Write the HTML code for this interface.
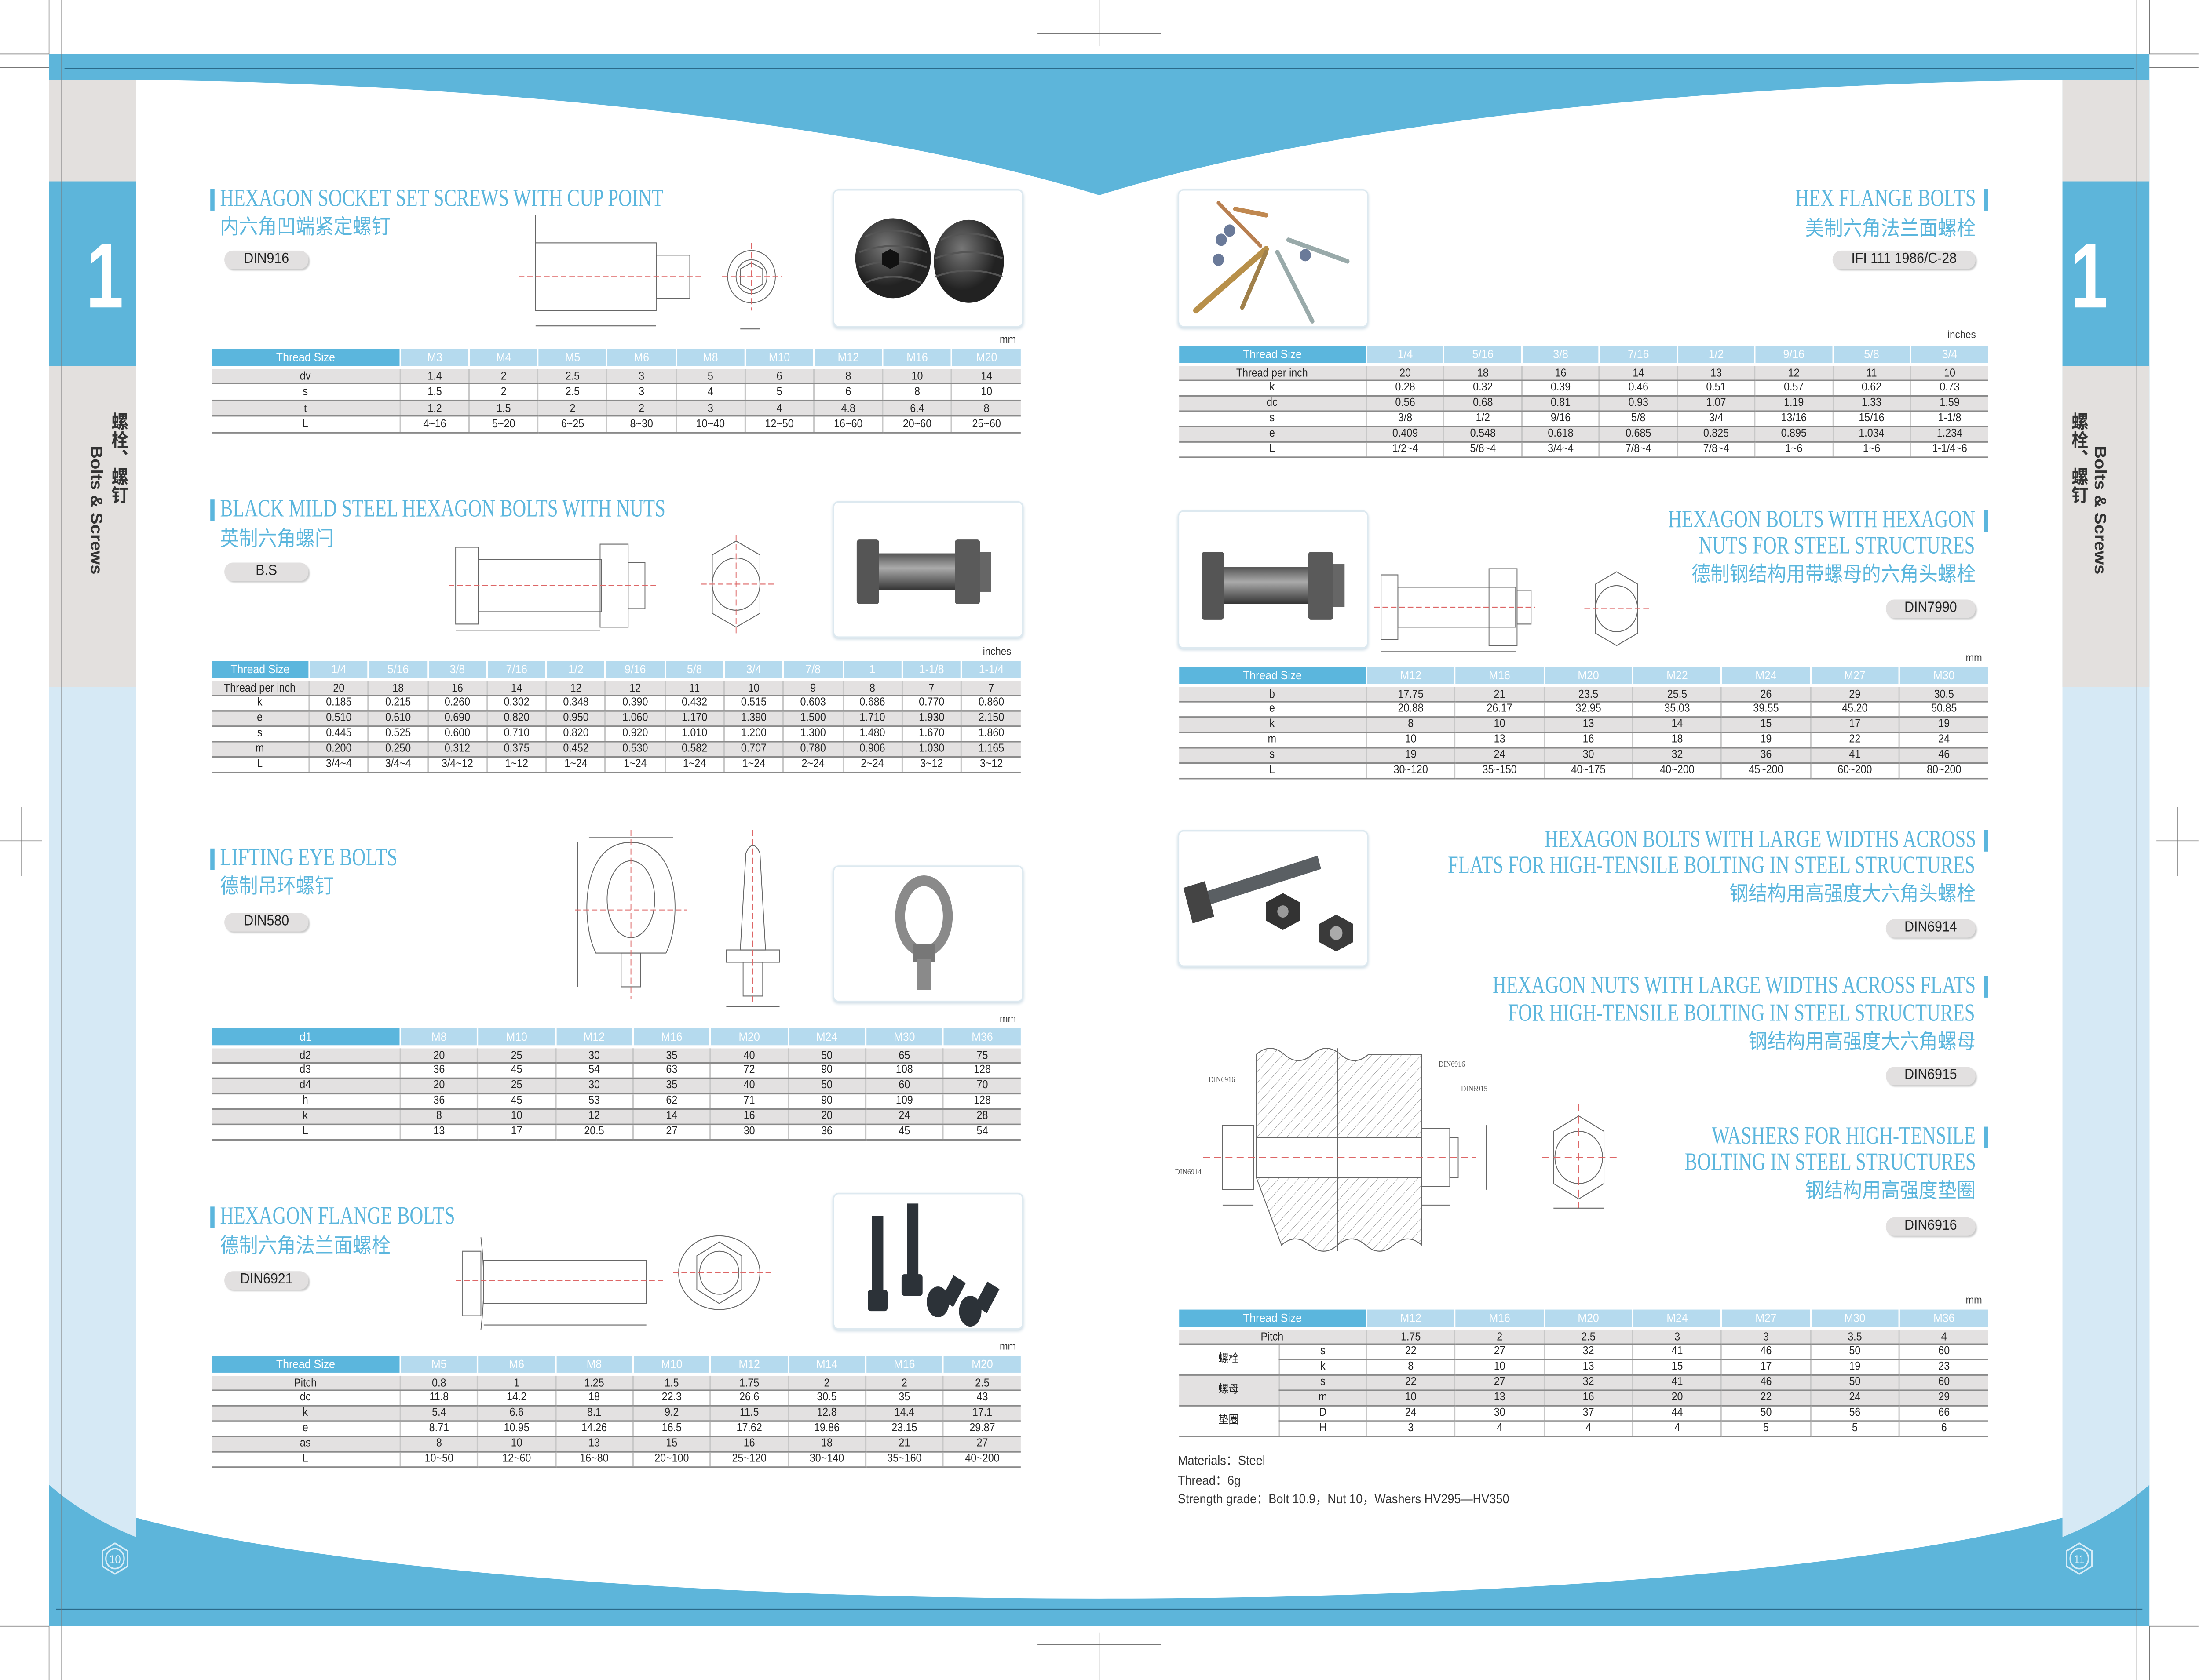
<!DOCTYPE html>
<html><head><meta charset="utf-8">
<style>
html,body{margin:0;padding:0;width:100%;height:100%;overflow:hidden;background:#fff}
#p{position:absolute;left:0;top:0;width:1568px;height:1093px;transform:scale(3.188,3.496);transform-origin:0 0;font-family:"Liberation Sans","Noto Sans CJK SC",sans-serif}
.a{position:absolute}
.tt{position:absolute;font-family:"Liberation Serif","Noto Serif CJK SC",serif;font-size:16px;color:#5bb6dd;white-space:nowrap;line-height:17px;transform:scaleX(.84)}
.tl{transform-origin:0 0}
.tr{transform-origin:100% 0;text-align:right}
.cn{position:absolute;font-family:"Noto Sans CJK SC",sans-serif;font-size:13.5px;color:#5bb6dd;white-space:nowrap;line-height:16px}
.bar{position:absolute;width:3px;height:14px;background:#5bb6dd}
.bd{position:absolute;height:12px;background:#e2e0e0;border-radius:6px;font-size:9.5px;color:#222;text-align:center;line-height:12px;box-shadow:1px 1px 1px #ccc}
.ph{position:absolute;border:1.5px solid #dde9f0;border-radius:4px;background:#fff;box-shadow:0 1px 2px #cfdde6;overflow:hidden}
.u{position:absolute;font-size:7px;color:#333}
table{position:absolute;border-collapse:collapse;table-layout:fixed;font-size:7.3px;color:#222}
td{text-align:center;padding:0;border-left:1px solid #c8c8c8;border-bottom:1px solid #8a8a8a;line-height:1;overflow:hidden;white-space:nowrap}
td:first-child{border-left:none}
tr:nth-child(even) td{background:#e3e1e1}
tr.h td{background:#b5daee;color:#fff;border-bottom:2px solid #fff;border-left:1px solid #fff;font-size:7.8px}
tr.h td:first-child{background:#5bb6dd}
.w td{background:#fff!important}
.g td{background:#e3e1e1!important}
svg{position:absolute;overflow:visible}
</style></head><body><div id="p">

<svg class="a" style="left:0;top:0" width="1568" height="1093" viewBox="0 0 1568 1093">
<rect x="35" y="35" width="1498" height="1023" fill="#5db5da"/>
<path d="M97,52 C350,54 620,80 784,127 C948,80 1218,54 1471,52 L1471,447 L97,447 Z" fill="#fff"/>
<rect x="97" y="300" width="1374" height="670" fill="#fff"/>
<path d="M35,447 L35,966 C120,1010 420,1040 784,1040 C1148,1040 1448,1010 1533,966 L1533,447 Z" fill="#fff"/>
<rect x="35" y="52" width="62" height="66" fill="#e3e0de"/>
<rect x="35" y="238" width="62" height="209" fill="#e3e0de"/>
<path d="M35,447 L97,447 L97,1000 C70,990 50,978 35,966 Z" fill="#d6e9f5"/>
<rect x="1471" y="52" width="62" height="66" fill="#e3e0de"/>
<rect x="1471" y="238" width="62" height="209" fill="#e3e0de"/>
<path d="M1533,447 L1471,447 L1471,1000 C1498,990 1518,978 1533,966 Z" fill="#d6e9f5"/>
<line x1="46" y1="44.5" x2="1522" y2="44.5" stroke="#2a6a8a" stroke-width=".8"/>
<line x1="40" y1="1047" x2="1528" y2="1047" stroke="#2a6a8a" stroke-width=".8"/>
<g stroke="#777" stroke-width=".5" fill="none">
<line x1="35" y1="0" x2="35" y2="35"/><line x1="44" y1="0" x2="44" y2="1093"/>
<line x1="0" y1="35" x2="35" y2="35"/><line x1="0" y1="44" x2="35" y2="44"/>
<line x1="1533" y1="0" x2="1533" y2="35"/><line x1="1524" y1="0" x2="1524" y2="1093"/>
<line x1="1533" y1="35" x2="1568" y2="35"/><line x1="1533" y1="44" x2="1568" y2="44"/>
<line x1="0" y1="1058" x2="35" y2="1058"/><line x1="1533" y1="1058" x2="1568" y2="1058"/>
<line x1="35" y1="1058" x2="35" y2="1093"/><line x1="1533" y1="1058" x2="1533" y2="1093"/>
<line x1="740" y1="22" x2="828" y2="22"/><line x1="784" y1="0" x2="784" y2="30"/>
<line x1="740" y1="1070" x2="828" y2="1070"/><line x1="784" y1="1062" x2="784" y2="1093"/>
<line x1="0" y1="547" x2="30" y2="547"/><line x1="15" y1="525" x2="15" y2="570"/>
<line x1="1538" y1="547" x2="1568" y2="547"/><line x1="1553" y1="525" x2="1553" y2="570"/>
</g>
<g fill="none" stroke="#d6ecf7" stroke-width="1">
<polygon points="82,1004 91,1009 91,1019 82,1024 73,1019 73,1009"/>
<circle cx="82" cy="1014" r="6.5"/>
<polygon points="1483,1004 1492,1009 1492,1019 1483,1024 1474,1019 1474,1009"/>
<circle cx="1483" cy="1014" r="6.5"/>
</g>
<text x="82" y="1017" font-size="7.5" fill="#e8f5fb" text-anchor="middle" font-family="Liberation Sans">10</text>
<text x="1483" y="1017" font-size="7.5" fill="#e8f5fb" text-anchor="middle" font-family="Liberation Sans">11</text>
</svg>

<div class="a" style="left:58px;top:150px;font:bold 60px 'Liberation Sans';color:#fff;line-height:60px;transform:scaleX(.8)">1</div>
<div class="a" style="left:1471px;top:150px;width:36px;font:bold 60px 'Liberation Sans';color:#fff;line-height:60px;transform:scaleX(.8);text-align:right">1</div>
<div class="a" style="left:79px;top:268px;writing-mode:vertical-rl;font:bold 12px 'Noto Sans CJK SC';color:#333;line-height:12px;height:70px">螺栓、螺钉</div>
<div class="a" style="left:62px;top:290px;writing-mode:vertical-rl;font:bold 11.5px 'Liberation Sans';color:#333;line-height:12px">Bolts &amp; Screws</div>
<div class="a" style="left:1477px;top:268px;writing-mode:vertical-rl;font:bold 12px 'Noto Sans CJK SC';color:#333;line-height:12px;height:70px">螺栓、螺钉</div>
<div class="a" style="left:1491px;top:290px;writing-mode:vertical-rl;font:bold 11.5px 'Liberation Sans';color:#333;line-height:12px">Bolts &amp; Screws</div>

<div class="bar" style="left:150px;top:123px"></div>
<div class="tt tl" style="left:157px;top:121px">HEXAGON SOCKET SET SCREWS WITH CUP POINT</div>
<div class="cn" style="left:157px;top:138px">内六角凹端紧定螺钉</div>
<div class="bd" style="left:160px;top:163px;width:60px">DIN916</div>
<svg style="left:370px;top:140px" width="200" height="80" viewBox="0 0 200 80" fill="none" stroke="#666" stroke-width=".6">
<rect x="12" y="18" width="86" height="44"/><rect x="98" y="26" width="24" height="28"/>
<line x1="0" y1="40" x2="130" y2="40" stroke="#d66" stroke-dasharray="4 2"/>
<line x1="12" y1="72" x2="98" y2="72"/><line x1="12" y1="0" x2="12" y2="18"/>
<circle cx="166" cy="40" r="17"/><circle cx="166" cy="40" r="11"/><polygon points="166,31 174,35 174,45 166,49 158,45 158,35"/>
<line x1="145" y1="40" x2="188" y2="40" stroke="#d66" stroke-dasharray="4 2"/><line x1="166" y1="18" x2="166" y2="62" stroke="#d66" stroke-dasharray="4 2"/>
<line x1="158" y1="74" x2="172" y2="74"/>
</svg>
<div class="ph" style="left:594px;top:123px;width:134px;height:88px">
<svg style="left:0;top:0" width="134" height="88"><defs><radialGradient id="g1" cx=".4" cy=".35"><stop offset="0" stop-color="#777"/><stop offset="1" stop-color="#222"/></radialGradient></defs>
<ellipse cx="42" cy="44" rx="27" ry="26" fill="url(#g1)"/><ellipse cx="96" cy="46" rx="25" ry="27" fill="url(#g1)"/>
<g stroke="#555" stroke-width="1.2" fill="none"><path d="M22,30 q20,-8 40,0 M18,40 q24,-8 48,0 M18,50 q24,-8 48,0 M22,60 q20,-8 40,0 M76,32 q20,-8 40,0 M72,44 q24,-8 48,0 M72,56 q24,-8 48,0"/></g>
<polygon points="40,38 46,41 46,48 40,51 34,48 34,41" fill="#111"/></svg></div>
<div class="u" style="left:713px;top:218px">mm</div>
<table style="left:150px;top:227px;width:578px">
<colgroup><col style="width:135px"><col span="9"></colgroup>
<tr class="h" style="height:12px"><td>Thread Size</td><td>M3</td><td>M4</td><td>M5</td><td>M6</td><td>M8</td><td>M10</td><td>M12</td><td>M16</td><td>M20</td></tr>
<tr style="height:10.5px"><td>dv</td><td>1.4</td><td>2</td><td>2.5</td><td>3</td><td>5</td><td>6</td><td>8</td><td>10</td><td>14</td></tr>
<tr style="height:10.5px"><td>s</td><td>1.5</td><td>2</td><td>2.5</td><td>3</td><td>4</td><td>5</td><td>6</td><td>8</td><td>10</td></tr>
<tr style="height:10.5px"><td>t</td><td>1.2</td><td>1.5</td><td>2</td><td>2</td><td>3</td><td>4</td><td>4.8</td><td>6.4</td><td>8</td></tr>
<tr style="height:10.5px"><td>L</td><td>4~16</td><td>5~20</td><td>6~25</td><td>8~30</td><td>10~40</td><td>12~50</td><td>16~60</td><td>20~60</td><td>25~60</td></tr>
</table>

<div class="bar" style="left:150px;top:325px"></div>
<div class="tt tl" style="left:157px;top:323px">BLACK MILD STEEL HEXAGON BOLTS WITH NUTS</div>
<div class="cn" style="left:157px;top:341px">英制六角螺闩</div>
<div class="bd" style="left:160px;top:366px;width:60px">B.S</div>
<svg style="left:320px;top:340px" width="250" height="75" viewBox="0 0 250 75" fill="none" stroke="#666" stroke-width=".6">
<rect x="5" y="16" width="16" height="50"/><rect x="21" y="24" width="88" height="34"/><rect x="108" y="14" width="20" height="54"/><rect x="128" y="26" width="12" height="30"/>
<line x1="0" y1="41" x2="150" y2="41" stroke="#d66" stroke-dasharray="4 2"/>
<line x1="5" y1="70" x2="108" y2="70"/>
<polygon points="205,12 222,21 222,59 205,68 188,59 188,21"/><circle cx="205" cy="40" r="17"/>
<line x1="180" y1="40" x2="232" y2="40" stroke="#d66" stroke-dasharray="4 2"/><line x1="205" y1="8" x2="205" y2="72" stroke="#d66" stroke-dasharray="4 2"/>
</svg>
<div class="ph" style="left:594px;top:326px;width:134px;height:87px">
<svg style="left:0;top:0" width="134" height="87"><defs><linearGradient id="g2" x1="0" y1="0" x2="0" y2="1"><stop offset="0" stop-color="#555"/><stop offset=".4" stop-color="#aaa"/><stop offset="1" stop-color="#333"/></linearGradient></defs>
<rect x="30" y="33" width="66" height="24" fill="url(#g2)"/><rect x="16" y="24" width="16" height="42" rx="2" fill="#555"/><rect x="86" y="24" width="18" height="42" rx="2" fill="#5a5a5a"/><rect x="104" y="32" width="8" height="26" fill="#666"/></svg></div>
<div class="u" style="left:701px;top:421px">inches</div>
<table style="left:150px;top:430px;width:578px">
<colgroup><col style="width:70px"><col span="12"></colgroup>
<tr class="h" style="height:12px"><td>Thread Size</td><td>1/4</td><td>5/16</td><td>3/8</td><td>7/16</td><td>1/2</td><td>9/16</td><td>5/8</td><td>3/4</td><td>7/8</td><td>1</td><td>1-1/8</td><td>1-1/4</td></tr>
<tr style="height:10px"><td>Thread per inch</td><td>20</td><td>18</td><td>16</td><td>14</td><td>12</td><td>12</td><td>11</td><td>10</td><td>9</td><td>8</td><td>7</td><td>7</td></tr>
<tr style="height:10px"><td>k</td><td>0.185</td><td>0.215</td><td>0.260</td><td>0.302</td><td>0.348</td><td>0.390</td><td>0.432</td><td>0.515</td><td>0.603</td><td>0.686</td><td>0.770</td><td>0.860</td></tr>
<tr style="height:10px"><td>e</td><td>0.510</td><td>0.610</td><td>0.690</td><td>0.820</td><td>0.950</td><td>1.060</td><td>1.170</td><td>1.390</td><td>1.500</td><td>1.710</td><td>1.930</td><td>2.150</td></tr>
<tr style="height:10px"><td>s</td><td>0.445</td><td>0.525</td><td>0.600</td><td>0.710</td><td>0.820</td><td>0.920</td><td>1.010</td><td>1.200</td><td>1.300</td><td>1.480</td><td>1.670</td><td>1.860</td></tr>
<tr style="height:10px"><td>m</td><td>0.200</td><td>0.250</td><td>0.312</td><td>0.375</td><td>0.452</td><td>0.530</td><td>0.582</td><td>0.707</td><td>0.780</td><td>0.906</td><td>1.030</td><td>1.165</td></tr>
<tr style="height:10px"><td>L</td><td>3/4~4</td><td>3/4~4</td><td>3/4~12</td><td>1~12</td><td>1~24</td><td>1~24</td><td>1~24</td><td>1~24</td><td>2~24</td><td>2~24</td><td>3~12</td><td>3~12</td></tr>
</table>

<div class="bar" style="left:150px;top:552px"></div>
<div class="tt tl" style="left:157px;top:550px">LIFTING EYE BOLTS</div>
<div class="cn" style="left:157px;top:567px">德制吊环螺钉</div>
<div class="bd" style="left:160px;top:594px;width:60px">DIN580</div>
<svg style="left:400px;top:540px" width="170" height="120" viewBox="0 0 170 120" fill="none" stroke="#666" stroke-width=".6">
<path d="M25,80 C14,60 14,8 50,8 C86,8 86,60 75,80 Z"/><ellipse cx="50" cy="45" rx="17" ry="25"/>
<rect x="43" y="80" width="14" height="22"/><line x1="12" y1="8" x2="12" y2="102"/><line x1="20" y1="5" x2="80" y2="5"/>
<line x1="10" y1="52" x2="90" y2="52" stroke="#d66" stroke-dasharray="4 2"/><line x1="50" y1="0" x2="50" y2="110" stroke="#d66" stroke-dasharray="4 2"/>
<path d="M128,78 L132,15 Q137,5 142,15 L146,78 Z"/><rect x="118" y="78" width="38" height="8"/><rect x="130" y="86" width="14" height="22"/>
<line x1="137" y1="0" x2="137" y2="112" stroke="#d66" stroke-dasharray="4 2"/><line x1="118" y1="115" x2="156" y2="115"/>
</svg>
<div class="ph" style="left:594px;top:563px;width:134px;height:87px">
<svg style="left:0;top:0" width="134" height="87"><ellipse cx="64" cy="32" rx="17" ry="23" fill="none" stroke="#8a8a8a" stroke-width="7"/><rect x="56" y="50" width="16" height="12" fill="#777"/><rect x="59" y="60" width="10" height="20" fill="#8a8a8a"/></svg></div>
<div class="u" style="left:713px;top:660px">mm</div>
<table style="left:150px;top:669px;width:578px">
<colgroup><col style="width:135px"><col span="8"></colgroup>
<tr class="h" style="height:12px"><td>d1</td><td>M8</td><td>M10</td><td>M12</td><td>M16</td><td>M20</td><td>M24</td><td>M30</td><td>M36</td></tr>
<tr style="height:10px"><td>d2</td><td>20</td><td>25</td><td>30</td><td>35</td><td>40</td><td>50</td><td>65</td><td>75</td></tr>
<tr style="height:10px"><td>d3</td><td>36</td><td>45</td><td>54</td><td>63</td><td>72</td><td>90</td><td>108</td><td>128</td></tr>
<tr style="height:10px"><td>d4</td><td>20</td><td>25</td><td>30</td><td>35</td><td>40</td><td>50</td><td>60</td><td>70</td></tr>
<tr style="height:10px"><td>h</td><td>36</td><td>45</td><td>53</td><td>62</td><td>71</td><td>90</td><td>109</td><td>128</td></tr>
<tr style="height:10px"><td>k</td><td>8</td><td>10</td><td>12</td><td>14</td><td>16</td><td>20</td><td>24</td><td>28</td></tr>
<tr style="height:10px"><td>L</td><td>13</td><td>17</td><td>20.5</td><td>27</td><td>30</td><td>36</td><td>45</td><td>54</td></tr>
</table>

<div class="bar" style="left:150px;top:785px"></div>
<div class="tt tl" style="left:157px;top:783px">HEXAGON FLANGE BOLTS</div>
<div class="cn" style="left:157px;top:801px">德制六角法兰面螺栓</div>
<div class="bd" style="left:160px;top:827px;width:60px">DIN6921</div>
<svg style="left:325px;top:800px" width="240" height="70" viewBox="0 0 240 70" fill="none" stroke="#666" stroke-width=".6">
<rect x="5" y="14" width="13" height="42"/><path d="M18,5 Q22,35 18,65"/><rect x="20" y="20" width="116" height="28"/>
<line x1="0" y1="33" x2="150" y2="33" stroke="#d66" stroke-dasharray="4 2"/><line x1="20" y1="62" x2="136" y2="62"/>
<ellipse cx="188" cy="28" rx="29" ry="24"/><polygon points="188,8 204,17 204,39 188,48 172,39 172,17"/><circle cx="188" cy="28" r="14"/>
<line x1="155" y1="28" x2="225" y2="28" stroke="#d66" stroke-dasharray="4 2"/>
</svg>
<div class="ph" style="left:594px;top:776px;width:134px;height:87px">
<svg style="left:0;top:0" width="134" height="87" fill="#2c3238"><rect x="27" y="14" width="8" height="58"/><rect x="52" y="6" width="8" height="50"/><rect x="24" y="62" width="14" height="14" rx="2"/><rect x="48" y="52" width="15" height="14" rx="2"/><ellipse cx="74" cy="70" rx="8" ry="10"/><ellipse cx="97" cy="76" rx="8" ry="10"/><rect x="80" y="54" width="10" height="18" transform="rotate(30 85 63)"/><rect x="104" y="58" width="10" height="18" transform="rotate(30 109 67)"/></svg></div>
<div class="u" style="left:713px;top:873px">mm</div>
<table style="left:150px;top:882px;width:578px">
<colgroup><col style="width:135px"><col span="8"></colgroup>
<tr class="h" style="height:12px"><td>Thread Size</td><td>M5</td><td>M6</td><td>M8</td><td>M10</td><td>M12</td><td>M14</td><td>M16</td><td>M20</td></tr>
<tr style="height:10px"><td>Pitch</td><td>0.8</td><td>1</td><td>1.25</td><td>1.5</td><td>1.75</td><td>2</td><td>2</td><td>2.5</td></tr>
<tr style="height:10px"><td>dc</td><td>11.8</td><td>14.2</td><td>18</td><td>22.3</td><td>26.6</td><td>30.5</td><td>35</td><td>43</td></tr>
<tr style="height:10px"><td>k</td><td>5.4</td><td>6.6</td><td>8.1</td><td>9.2</td><td>11.5</td><td>12.8</td><td>14.4</td><td>17.1</td></tr>
<tr style="height:10px"><td>e</td><td>8.71</td><td>10.95</td><td>14.26</td><td>16.5</td><td>17.62</td><td>19.86</td><td>23.15</td><td>29.87</td></tr>
<tr style="height:10px"><td>as</td><td>8</td><td>10</td><td>13</td><td>15</td><td>16</td><td>18</td><td>21</td><td>27</td></tr>
<tr style="height:10px"><td>L</td><td>10~50</td><td>12~60</td><td>16~80</td><td>20~100</td><td>25~120</td><td>30~140</td><td>35~160</td><td>40~200</td></tr>
</table>

<div class="ph" style="left:840px;top:123px;width:134px;height:88px">
<svg style="left:0;top:0" width="134" height="88" stroke-linecap="round">
<line x1="12" y1="78" x2="62" y2="38" stroke="#b8904a" stroke-width="4"/><line x1="45" y1="76" x2="62" y2="40" stroke="#a0804a" stroke-width="3"/>
<line x1="70" y1="40" x2="95" y2="85" stroke="#9aa" stroke-width="3"/><line x1="78" y1="32" x2="120" y2="46" stroke="#9aa" stroke-width="3"/>
<line x1="28" y1="8" x2="58" y2="36" stroke="#b87f50" stroke-width="2.5"/><line x1="40" y1="12" x2="62" y2="16" stroke="#c08850" stroke-width="3"/>
<circle cx="30" cy="32" r="4" fill="#6a7a99"/><circle cx="28" cy="45" r="4" fill="#6a7a99"/><circle cx="36" cy="26" r="4" fill="#6a7a99"/><circle cx="90" cy="42" r="4" fill="#6a7a99"/></svg></div>
<div class="tt tr" style="right:159px;top:121px">HEX FLANGE BOLTS</div>
<div class="bar" style="left:1415px;top:123px"></div>
<div class="cn" style="right:159px;top:139px;text-align:right">美制六角法兰面螺栓</div>
<div class="bd" style="left:1307px;top:163px;width:102px">IFI 111 1986/C-28</div>
<div class="u" style="left:1389px;top:215px">inches</div>
<table style="left:840px;top:225px;width:578px">
<colgroup><col style="width:134px"><col span="8"></colgroup>
<tr class="h" style="height:12px"><td>Thread Size</td><td>1/4</td><td>5/16</td><td>3/8</td><td>7/16</td><td>1/2</td><td>9/16</td><td>5/8</td><td>3/4</td></tr>
<tr style="height:10px"><td>Thread per inch</td><td>20</td><td>18</td><td>16</td><td>14</td><td>13</td><td>12</td><td>11</td><td>10</td></tr>
<tr style="height:10px"><td>k</td><td>0.28</td><td>0.32</td><td>0.39</td><td>0.46</td><td>0.51</td><td>0.57</td><td>0.62</td><td>0.73</td></tr>
<tr style="height:10px"><td>dc</td><td>0.56</td><td>0.68</td><td>0.81</td><td>0.93</td><td>1.07</td><td>1.19</td><td>1.33</td><td>1.59</td></tr>
<tr style="height:10px"><td>s</td><td>3/8</td><td>1/2</td><td>9/16</td><td>5/8</td><td>3/4</td><td>13/16</td><td>15/16</td><td>1-1/8</td></tr>
<tr style="height:10px"><td>e</td><td>0.409</td><td>0.548</td><td>0.618</td><td>0.685</td><td>0.825</td><td>0.895</td><td>1.034</td><td>1.234</td></tr>
<tr style="height:10px"><td>L</td><td>1/2~4</td><td>5/8~4</td><td>3/4~4</td><td>7/8~4</td><td>7/8~4</td><td>1~6</td><td>1~6</td><td>1-1/4~6</td></tr>
</table>

<div class="ph" style="left:840px;top:332px;width:134px;height:88px">
<svg style="left:0;top:0" width="134" height="88"><rect x="30" y="36" width="66" height="24" fill="url(#g2)"/><rect x="16" y="26" width="16" height="44" rx="2" fill="#555"/><rect x="92" y="26" width="18" height="44" rx="2" fill="#5a5a5a"/><rect x="110" y="34" width="8" height="28" fill="#666"/></svg></div>
<svg style="left:980px;top:360px" width="200" height="70" viewBox="0 0 200 70" fill="none" stroke="#666" stroke-width=".6">
<rect x="5" y="14" width="12" height="42"/><rect x="17" y="22" width="84" height="26"/><rect x="82" y="10" width="20" height="50"/><rect x="102" y="24" width="10" height="22"/>
<line x1="0" y1="35" x2="115" y2="35" stroke="#d66" stroke-dasharray="4 2"/><line x1="5" y1="64" x2="101" y2="64"/>
<polygon points="173,12 188,20 188,52 173,60 158,52 158,20"/><circle cx="173" cy="36" r="15"/>
<line x1="150" y1="36" x2="196" y2="36" stroke="#d66" stroke-dasharray="4 2"/>
</svg>
<div class="tt tr" style="right:159px;top:330px">HEXAGON BOLTS WITH HEXAGON</div>
<div class="bar" style="left:1415px;top:332px"></div>
<div class="tt tr" style="right:159px;top:347px">NUTS FOR STEEL STRUCTURES</div>
<div class="cn" style="right:159px;top:364px;text-align:right">德制钢结构用带螺母的六角头螺栓</div>
<div class="bd" style="left:1345px;top:390px;width:64px">DIN7990</div>
<div class="u" style="left:1402px;top:425px">mm</div>
<table style="left:840px;top:434px;width:578px">
<colgroup><col style="width:134px"><col span="7"></colgroup>
<tr class="h" style="height:12px"><td>Thread Size</td><td>M12</td><td>M16</td><td>M20</td><td>M22</td><td>M24</td><td>M27</td><td>M30</td></tr>
<tr style="height:10px"><td>b</td><td>17.75</td><td>21</td><td>23.5</td><td>25.5</td><td>26</td><td>29</td><td>30.5</td></tr>
<tr style="height:10px"><td>e</td><td>20.88</td><td>26.17</td><td>32.95</td><td>35.03</td><td>39.55</td><td>45.20</td><td>50.85</td></tr>
<tr style="height:10px"><td>k</td><td>8</td><td>10</td><td>13</td><td>14</td><td>15</td><td>17</td><td>19</td></tr>
<tr style="height:10px"><td>m</td><td>10</td><td>13</td><td>16</td><td>18</td><td>19</td><td>22</td><td>24</td></tr>
<tr style="height:10px"><td>s</td><td>19</td><td>24</td><td>30</td><td>32</td><td>36</td><td>41</td><td>46</td></tr>
<tr style="height:10px"><td>L</td><td>30~120</td><td>35~150</td><td>40~175</td><td>40~200</td><td>45~200</td><td>60~200</td><td>80~200</td></tr>
</table>

<div class="ph" style="left:840px;top:540px;width:134px;height:87px">
<svg style="left:0;top:0" width="134" height="87"><line x1="18" y1="44" x2="100" y2="20" stroke="#5a5f63" stroke-width="9"/><rect x="6" y="34" width="16" height="24" fill="#444" transform="rotate(-16 14 46)"/><polygon points="62,46 74,40 86,46 86,58 74,64 62,58" fill="#333"/><circle cx="74" cy="52" r="4" fill="#999"/><polygon points="100,60 112,54 124,60 124,72 112,78 100,72" fill="#3a3a3a"/><circle cx="112" cy="66" r="4.5" fill="#aaa"/></svg></div>
<div class="tt tr" style="right:159px;top:538px">HEXAGON BOLTS WITH LARGE WIDTHS ACROSS</div>
<div class="bar" style="left:1415px;top:540px"></div>
<div class="tt tr" style="right:159px;top:555px">FLATS FOR HIGH-TENSILE BOLTING IN STEEL STRUCTURES</div>
<div class="cn" style="right:159px;top:572px;text-align:right">钢结构用高强度大六角头螺栓</div>
<div class="bd" style="left:1345px;top:598px;width:64px">DIN6914</div>

<div class="tt tr" style="right:159px;top:633px">HEXAGON NUTS WITH LARGE WIDTHS ACROSS FLATS</div>
<div class="bar" style="left:1415px;top:635px"></div>
<div class="tt tr" style="right:159px;top:651px">FOR HIGH-TENSILE BOLTING IN STEEL STRUCTURES</div>
<div class="cn" style="right:159px;top:668px;text-align:right">钢结构用高强度大六角螺母</div>
<div class="bd" style="left:1345px;top:694px;width:64px">DIN6915</div>

<div class="tt tr" style="right:159px;top:731px">WASHERS FOR HIGH-TENSILE</div>
<div class="bar" style="left:1415px;top:733px"></div>
<div class="tt tr" style="right:159px;top:748px">BOLTING IN STEEL STRUCTURES</div>
<div class="cn" style="right:159px;top:765px;text-align:right">钢结构用高强度垫圈</div>
<div class="bd" style="left:1345px;top:792px;width:64px">DIN6916</div>

<svg style="left:838px;top:678px" width="330" height="140" viewBox="0 0 330 140" fill="none" stroke="#666" stroke-width=".6">
<defs><pattern id="hp" width="5" height="5" patternUnits="userSpaceOnUse" patternTransform="rotate(45)"><line x1="0" y1="0" x2="0" y2="5" stroke="#888" stroke-width=".5"/></pattern></defs>
<path d="M58,8 q10,-8 20,0 q10,8 20,0 q10,-8 20,0 q10,8 20,0 L176,8 L176,62 L58,62 Z" fill="url(#hp)"/>
<path d="M58,88 L176,88 L176,132 q-10,-8 -20,0 q-10,8 -20,0 q-10,-8 -20,0 q-10,8 -20,0 q-10,-8 -20,0 Z" fill="url(#hp)"/>
<line x1="116" y1="4" x2="116" y2="136"/>
<rect x="58" y="62" width="118" height="26"/>
<rect x="34" y="54" width="22" height="42"/><rect x="176" y="56" width="20" height="38"/><rect x="196" y="62" width="6" height="26"/>
<line x1="20" y1="75" x2="215" y2="75" stroke="#d66" stroke-dasharray="5 3"/>
<line x1="222" y1="54" x2="222" y2="96"/>
<polygon points="288,48 306,58 306,92 288,102 270,92 270,58"/><circle cx="288" cy="75" r="17"/>
<line x1="262" y1="75" x2="316" y2="75" stroke="#d66" stroke-dasharray="5 3"/><line x1="288" y1="40" x2="288" y2="108" stroke="#d66" stroke-dasharray="5 3"/>
<line x1="270" y1="108" x2="306" y2="108"/><line x1="34" y1="106" x2="56" y2="106"/><line x1="176" y1="106" x2="196" y2="106"/>
<text x="24" y="26" font-size="5" fill="#555" stroke="none" font-family="Liberation Serif">DIN6916</text>
<text x="188" y="16" font-size="5" fill="#555" stroke="none" font-family="Liberation Serif">DIN6916</text>
<text x="204" y="32" font-size="5" fill="#555" stroke="none" font-family="Liberation Serif">DIN6915</text>
<text x="0" y="86" font-size="5" fill="#555" stroke="none" font-family="Liberation Serif">DIN6914</text>
</svg>

<div class="u" style="left:1402px;top:843px">mm</div>
<table style="left:840px;top:852px;width:578px">
<colgroup><col style="width:72px"><col style="width:62px"><col span="7"></colgroup>
<tr class="h" style="height:12px"><td colspan="2">Thread Size</td><td>M12</td><td>M16</td><td>M20</td><td>M24</td><td>M27</td><td>M30</td><td>M36</td></tr>
<tr class="g" style="height:10px"><td colspan="2">Pitch</td><td>1.75</td><td>2</td><td>2.5</td><td>3</td><td>3</td><td>3.5</td><td>4</td></tr>
<tr class="w" style="height:10px"><td rowspan="2" style="border-bottom:1px solid #8a8a8a">螺栓</td><td>s</td><td>22</td><td>27</td><td>32</td><td>41</td><td>46</td><td>50</td><td>60</td></tr>
<tr class="w" style="height:10px"><td style="border-left:1px solid #c8c8c8">k</td><td>8</td><td>10</td><td>13</td><td>15</td><td>17</td><td>19</td><td>23</td></tr>
<tr class="g" style="height:10px"><td rowspan="2">螺母</td><td>s</td><td>22</td><td>27</td><td>32</td><td>41</td><td>46</td><td>50</td><td>60</td></tr>
<tr class="g" style="height:10px"><td style="border-left:1px solid #c8c8c8">m</td><td>10</td><td>13</td><td>16</td><td>20</td><td>22</td><td>24</td><td>29</td></tr>
<tr class="w" style="height:10px"><td rowspan="2">垫圈</td><td>D</td><td>24</td><td>30</td><td>37</td><td>44</td><td>50</td><td>56</td><td>66</td></tr>
<tr class="w" style="height:10px"><td style="border-left:1px solid #c8c8c8">H</td><td>3</td><td>4</td><td>4</td><td>4</td><td>5</td><td>5</td><td>6</td></tr>
</table>

<div class="a" style="left:840px;top:944px;font-size:8.5px;color:#333;line-height:12.5px">Materials：Steel<br>Thread：6g<br>Strength grade：Bolt 10.9，Nut 10，Washers HV295—HV350</div>

</div></body></html>
